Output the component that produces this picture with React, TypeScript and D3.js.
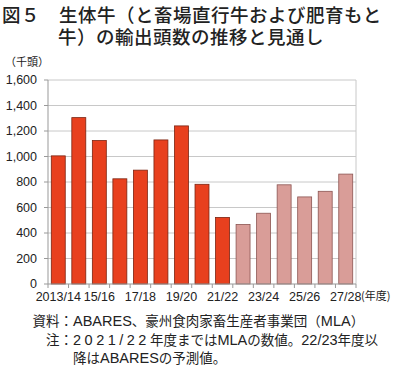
import React from "react";
import * as d3 from "d3";

// 年度
const categories = [
  "2013/14", "14/15", "15/16", "16/17", "17/18", "18/19", "19/20", "20/21",
  "21/22", "22/23", "23/24", "24/25", "25/26", "26/27", "27/28",
];
// 千頭
const values = [1005, 1305, 1125, 825, 893, 1130, 1240, 782, 522, 467, 555, 778, 683, 727, 862];
// 予測値 (ABARES) from 22/23
const forecast = [false, false, false, false, false, false, false, false, false, true, true, true, true, true, true];
const yTicks = [0, 200, 400, 600, 800, 1000, 1200, 1400, 1600];
const xLabels = ["2013/14", "15/16", "17/18", "19/20", "21/22", "23/24", "25/26", "27/28"];

const titleLines = ["図５　生体牛（と畜場直行牛および肥育もと", "牛）の輸出頭数の推移と見通し"];

const W = 400;
const H = 371;
const margin = { top: 80, right: 44, bottom: 87, left: 48 };
const font = "'Liberation Sans', 'Noto Sans CJK JP', sans-serif";
const cjk = "'Noto Sans CJK JP', sans-serif";

// latin runs in the notes are set a little larger than the kana/kanji
const L = ({ children, ls }: { children: React.ReactNode; ls?: number }) => (
  <tspan fontSize={14.5} letterSpacing={ls}>{children}</tspan>
);

const App: React.FC = () => {
  const x = d3
    .scaleBand<string>()
    .domain(categories)
    .range([margin.left, W - margin.right])
    .paddingInner(0.32)
    .paddingOuter(0.16);
  const y = d3.scaleLinear().domain([0, 1600]).range([H - margin.bottom, margin.top]);
  const step = x.step();
  const x0 = margin.left;
  const x1 = W - margin.right;
  const y0 = y(0);
  const ny = 326; // first note baseline
  const lh = 18.5;

  return (
    <div style={{ position: "absolute", left: 0, top: 0 }}>
      <svg width={W} height={H} style={{ display: "block", fontFamily: font }}>
        <rect width={W} height={H} fill="#fff" />
        {/* title */}
        <g fontFamily={cjk} fontSize={18.5} letterSpacing={0.5} fontWeight={500} fill="#222">
          <text x={2} y={21.5}>{titleLines[0]}</text>
          <text x={58} y={44}>{titleLines[1]}</text>
        </g>

        <text x={5} y={66} fontSize={11} fontFamily={cjk} fill="#222">（千頭）</text>

        {/* grid */}
        {yTicks.map(t => (
          <g key={t}>
            {t > 0 && (
              <line x1={x0} x2={x1} y1={y(t)} y2={y(t)} stroke="#c8c8c8" strokeWidth={1} />
            )}
            <line x1={x0 - 4} x2={x0} y1={y(t)} y2={y(t)} stroke="#999" />
            <text x={x0 - 11} y={y(t)} dy="0.35em" textAnchor="end" fontSize={12.5} fill="#222">
              {d3.format(",")(t)}
            </text>
          </g>
        ))}
        <line x1={x1} x2={x1} y1={y(1600)} y2={y0} stroke="#c8c8c8" />

        {/* bars */}
        {categories.map((c, i) => (
          <rect
            key={c}
            x={x(c)!}
            y={y(values[i])}
            width={x.bandwidth()}
            height={y0 - y(values[i])}
            fill={forecast[i] ? "#d99d98" : "#e8401e"}
            stroke={forecast[i] ? "#8c5552" : "#7a2412"}
            strokeWidth={0.8}
          />
        ))}

        {/* axes */}
        <line x1={x0} x2={x0} y1={y(1600)} y2={y0} stroke="#999" />
        <line x1={x0} x2={x1} y1={y0} y2={y0} stroke="#999" />
        {d3.range(categories.length + 1).map(i => (
          <line key={i} x1={x0 + i * step} x2={x0 + i * step} y1={y0} y2={y0 + 4} stroke="#999" />
        ))}
        {xLabels.map(l => (
          <text
            key={l}
            x={x(l)! + x.bandwidth() / 2}
            y={y0 + 17}
            textAnchor="middle"
            fontSize={12.5}
            fill="#222"
          >
            {l}
          </text>
        ))}
        <text x={361} y={y0 + 16} fontSize={11} fontFamily={cjk} fill="#222">
          (年度)
        </text>

        {/* notes */}
        <g fontSize={13.5} fill="#222">
          <text x={73} y={ny} textAnchor="end">資料：</text>
          <text x={73} y={ny}>
            <L>ABARES</L>、豪州食肉家畜生産者事業団（<L>MLA</L>）
          </text>
          <text x={73} y={ny + lh} textAnchor="end">注：</text>
          <text x={73} y={ny + lh}>
            <L ls={3.5}>2021/22</L>年度までは<L>MLA</L>の数値。<L>22/23</L>年度以
          </text>
          <text x={73} y={ny + lh * 2}>
            降は<L>ABARES</L>の予測値。
          </text>
        </g>
      </svg>
    </div>
  );
};

export default App;
